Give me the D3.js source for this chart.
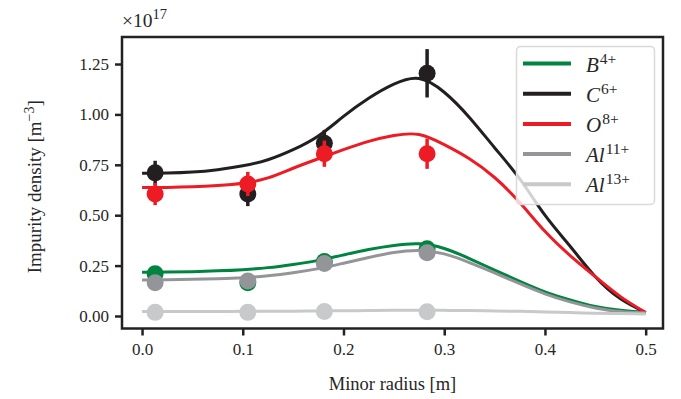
<!DOCTYPE html>
<html><head><meta charset="utf-8">
<script src="https://cdn.jsdelivr.net/npm/d3@7"></script>
<style>
body{margin:0;background:#fff}
svg{display:block}
text{font-family:"Liberation Serif","DejaVu Serif",serif;fill:#262626}
</style>
</head><body>
<svg id="chart" width="681" height="399"></svg>
<script>
// ---- data ----
const seriesNames = ["B4+", "C6+", "O8+", "Al11+", "Al13+"];
const labelBase = ["B", "C", "O", "Al", "Al"];
const labelSup = ["4+", "6+", "8+", "11+", "13+"];
const seriesColors = ["#00843f", "#231f20", "#ed1c24", "#939598", "#c8c9cb"];

const pointRadius = [0.013, 0.105, 0.181, 0.283];
const pointsB = [0.21, 0.165, 0.27, 0.333];
const pointsC = [0.71, 0.605, 0.857, 1.204];
const pointsO = [0.605, 0.655, 0.805, 0.805];
const pointsAl11 = [0.165, 0.174, 0.261, 0.314];
const pointsAl13 = [0.018, 0.018, 0.022, 0.021];
const errB = [0.01, 0.01, 0.01, 0.01];
const errC = [0.06, 0.06, 0.066, 0.12];
const errO = [0.055, 0.06, 0.065, 0.075];
const errAl11 = [0.01, 0.01, 0.01, 0.01];
const errAl13 = [0.005, 0.005, 0.005, 0.005];

const fitRadius = [0, 0.025, 0.05, 0.075, 0.1, 0.125, 0.15, 0.175, 0.2, 0.225, 0.25,
                   0.275, 0.3, 0.325, 0.35, 0.375, 0.4, 0.425, 0.45, 0.475, 0.5];
const fitB = [0.217,0.218,0.22,0.224,0.23,0.24,0.256,0.276,0.303,0.33,0.35,0.358,0.335,0.285,0.228,0.172,0.12,0.08,0.047,0.028,0.018];
const fitC = [0.708,0.709,0.714,0.726,0.745,0.775,0.825,0.893,0.99,1.08,1.15,1.178,1.11,0.985,0.835,0.68,0.50,0.346,0.195,0.085,0.017];
const fitO = [0.637,0.638,0.641,0.647,0.658,0.685,0.733,0.78,0.825,0.866,0.895,0.9,0.85,0.78,0.687,0.563,0.42,0.30,0.195,0.096,0.017];
const fitAl11 = [0.179,0.18,0.182,0.185,0.19,0.2,0.215,0.235,0.262,0.29,0.315,0.325,0.308,0.265,0.214,0.16,0.11,0.07,0.04,0.022,0.015];
const fitAl13 = [0.022,0.022,0.022,0.022,0.023,0.023,0.024,0.025,0.026,0.027,0.028,0.028,0.028,0.027,0.025,0.023,0.02,0.017,0.014,0.012,0.01];

const xTicks = [0.0, 0.1, 0.2, 0.3, 0.4, 0.5];
const yTicks = [0.0, 0.25, 0.5, 0.75, 1.0, 1.25];

const allPoints = [pointsB, pointsC, pointsO, pointsAl11, pointsAl13];
const allErr = [errB, errC, errO, errAl11, errAl13];
const allFits = [fitB, fitC, fitO, fitAl11, fitAl13];

// ---- layout ----
const L = 122, R = 663, T = 37, B = 328.5;
const FONT = '"Liberation Serif","DejaVu Serif",serif';
const svg = d3.select("#chart");
const x = d3.scaleLinear().domain([-0.0199, 0.5172]).range([L, R]);
const y = d3.scaleLinear().domain([-0.062, 1.384]).range([B, T]);

const plot = svg.append("g");
const line = d3.line().x((d, i) => x(fitRadius[i])).y(d => y(d)).curve(d3.curveNatural);

seriesNames.forEach((name, s) => {
  const g = plot.append("g");
  const col = seriesColors[s];
  g.append("path").datum(allFits[s]).attr("d", line)
    .attr("fill", "none").attr("stroke", col).attr("stroke-width", 3);
  g.selectAll("line.err").data(allPoints[s]).enter().append("line")
    .attr("x1", (d, i) => x(pointRadius[i])).attr("x2", (d, i) => x(pointRadius[i]))
    .attr("y1", (d, i) => y(d - allErr[s][i])).attr("y2", (d, i) => y(d + allErr[s][i]))
    .attr("stroke", col).attr("stroke-width", 3.5);
  g.selectAll("circle").data(allPoints[s]).enter().append("circle")
    .attr("cx", (d, i) => x(pointRadius[i])).attr("cy", d => y(d))
    .attr("r", 8.5).attr("fill", col);
});

// ---- axes ----
const axisCol = "#222";
const xAxis = svg.append("g").attr("transform", `translate(0,${B})`)
  .call(d3.axisBottom(x).tickValues(xTicks).tickFormat(d3.format(".1f")).tickSize(7).tickPadding(7));
const yAxis = svg.append("g").attr("transform", `translate(${L},0)`)
  .call(d3.axisLeft(y).tickValues(yTicks).tickFormat(d3.format(".2f")).tickSize(7).tickPadding(6));
[xAxis, yAxis].forEach(a => {
  a.attr("font-family", FONT);
  a.select(".domain").remove();
  a.selectAll(".tick line").attr("stroke", axisCol).attr("stroke-width", 2.5);
  a.selectAll(".tick text").attr("font-size", 17).attr("fill", "#262626");
});
svg.append("rect").attr("x", L).attr("y", T).attr("width", R - L).attr("height", B - T)
  .attr("fill", "none").attr("stroke", axisCol).attr("stroke-width", 2.5);

// axis labels
svg.append("text").attr("x", (L + R) / 2).attr("y", 390).attr("text-anchor", "middle")
  .attr("font-size", 18.5).text("Minor radius [m]");
const yl = svg.append("text").attr("transform", `translate(41,${(T + B) / 2 + 4}) rotate(-90)`)
  .attr("text-anchor", "middle").attr("font-size", 19);
yl.append("tspan").text("Impurity density [m");
yl.append("tspan").attr("font-size", 14).attr("dy", -7).text("\u22123");
yl.append("tspan").attr("dy", 7).text("]");

// offset text
const off = svg.append("text").attr("x", L).attr("y", 27).attr("font-size", 19.5);
off.append("tspan").text("\u00d710");
off.append("tspan").attr("font-size", 14.5).attr("dy", -8).text("17");

// ---- legend ----
const leg = svg.append("g");
leg.append("rect").attr("x", 516.5).attr("y", 46.5).attr("width", 138).attr("height", 158)
  .attr("rx", 4).attr("fill", "rgba(255,255,255,0.8)").attr("stroke", "#d9d9d9").attr("stroke-width", 1.5);
seriesNames.forEach((name, s) => {
  const yy = 63.5 + s * 30.2;
  leg.append("line").attr("x1", 523).attr("x2", 571).attr("y1", yy).attr("y2", yy)
    .attr("stroke", seriesColors[s]).attr("stroke-width", 4);
  const t = leg.append("text").attr("x", 586).attr("y", yy + 8).attr("font-size", 21);
  t.append("tspan").attr("font-style", "italic").text(labelBase[s]);
  t.append("tspan").attr("font-size", 15.5).attr("dy", -8).attr("dx", 1).text(labelSup[s]);
});
</script>
</body></html>
